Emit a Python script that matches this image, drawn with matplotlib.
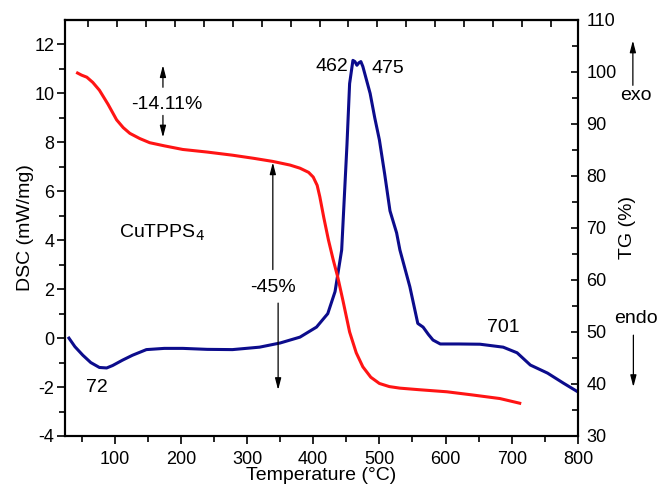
#!/usr/bin/python
import numpy as np
import matplotlib
matplotlib.use("Agg")
import matplotlib.pyplot as plt

plt.rcParams['font.family'] = ['Liberation Sans', 'DejaVu Sans']
plt.rcParams['font.size'] = 14
plt.rcParams['axes.unicode_minus'] = False

# DSC curve (left axis)
dsc_temp = [31, 40, 52, 64, 77, 88, 97, 112, 127, 148, 175, 203, 240, 278, 319, 350,
            380, 405, 422, 433, 443, 451, 455, 460, 463, 466, 469, 472, 475, 480,
            486, 493, 500, 508, 516, 526, 531, 546, 558, 566, 574, 581, 592, 620,
            652, 687, 708, 728, 754, 778, 800]
dsc_val = [0.0, -0.35, -0.7, -1.0, -1.2, -1.22, -1.12, -0.9, -0.7, -0.47, -0.42, -0.42,
           -0.46, -0.47, -0.37, -0.2, 0.04, 0.45, 1.0, 1.9, 3.6, 7.9, 10.4, 11.35,
           11.3, 11.15, 11.25, 11.3, 11.1, 10.6, 10.0, 9.0, 8.1, 6.7, 5.2, 4.3, 3.6,
           2.1, 0.6, 0.45, 0.15, -0.08, -0.24, -0.24, -0.25, -0.37, -0.6, -1.1,
           -1.43, -1.84, -2.2]

# TG curve (right axis)
tg_temp = [44, 50, 58, 67, 77, 90, 103, 113, 123, 138, 153, 175, 203, 240, 278, 310,
           339, 365, 380, 393, 400, 406, 410, 416, 423, 430, 437, 445, 455, 465,
           475, 487, 500, 515, 531, 560, 602, 640, 682, 712]
tg_val = [99.8, 99.4, 99.0, 98.0, 96.5, 93.8, 90.8, 89.3, 88.2, 87.2, 86.4, 85.8, 85.1,
          84.6, 84.0, 83.4, 82.8, 82.1, 81.5, 80.7, 79.8, 78.2, 76.0, 72.0, 67.7,
          64.0, 60.6, 56.0, 50.0, 46.0, 43.3, 41.3, 40.1, 39.5, 39.2, 38.9, 38.5,
          37.9, 37.2, 36.3]

x_ticks = [100, 200, 300, 400, 500, 600, 700, 800]
dsc_ticks = [-4, -2, 0, 2, 4, 6, 8, 10, 12]
tg_ticks = [30, 40, 50, 60, 70, 80, 90, 100, 110]
top_ticks = np.arange(60, 800, 43.7)

fig = plt.figure(figsize=(6.61, 4.84), dpi=100)
ax = fig.add_axes([0.0983, 0.0992, 0.7761, 0.8595])

blue = '#0c0c8c'
red = '#ff1414'

ax.plot(dsc_temp, dsc_val, color=blue, lw=2.2, zorder=3)
ax.set_xlim(25, 800)
ax.set_ylim(-4, 13)
ax.set_xticks(x_ticks)
ax.set_xticks(np.arange(50, 800, 100), minor=True)
ax.set_yticks(dsc_ticks)
ax.set_yticks(np.arange(-3, 13, 2), minor=True)
ax.set_xlabel('Temperature (\u00b0C)', labelpad=-1)
ax.set_ylabel('DSC (mW/mg)', labelpad=0)
ax.tick_params(axis='both', which='major', direction='out', length=6, width=1.2,
               pad=1.5, labelsize=13)
ax.tick_params(axis='both', which='minor', direction='out', length=4, width=1.2)
ax.tick_params(axis='x', which='major', pad=5)
ax.tick_params(top=False, right=False, which='both')

top = ax.secondary_xaxis('top')
top.set_xticks(top_ticks)
top.set_xticklabels([])
top.tick_params(direction='in', length=5, width=1.2)

ax2 = ax.twinx()
ax2.plot(tg_temp, tg_val, color=red, lw=2.2, zorder=3)
ax2.set_ylim(30, 110)
ax2.set_yticks(tg_ticks)
ax2.set_yticks(np.arange(35, 110, 10), minor=True)
ax2.set_ylabel('TG (%)', rotation=90, labelpad=2)
ax2.tick_params(axis='y', which='major', direction='in', length=5, width=1.2, pad=6,
                labelsize=13)
ax2.tick_params(axis='y', which='minor', direction='in', length=4, width=1.2)

for a in (ax, ax2):
    for s in a.spines.values():
        s.set_linewidth(1.5)
top.spines['top'].set_linewidth(1.5)

arrow = dict(arrowstyle='-|>,head_length=0.5,head_width=0.13', color='black', lw=0.9,
             shrinkA=0, shrinkB=0)

ax.text(428, 11.1, '462', ha='center', va='center')
ax.text(513, 11.0, '475', ha='center', va='center')
ax.text(73, -2.0, '72', ha='center', va='center')
ax.text(687, 0.45, '701', ha='center', va='center')
ax.text(171, 4.3, 'CuTPPS$_4$', ha='center', va='center')

ax.text(179, 9.55, '-14.11%', ha='center', va='center')
ax.annotate('', xy=(173, 11.15), xytext=(173, 10.25), arrowprops=arrow)
ax.annotate('', xy=(173, 8.2), xytext=(173, 9.1), arrowprops=arrow)

ax.text(339, 2.08, '-45%', ha='center', va='center')
ax.annotate('', xy=(339, 7.18), xytext=(339, 2.8), arrowprops=arrow)
ax.annotate('', xy=(347, -2.12), xytext=(347, 1.43), arrowprops=arrow)

tr = ax.get_yaxis_transform()
ax.text(1.113, 9.92, 'exo', transform=tr, ha='center', va='center')
ax.annotate('', xy=(1.107, 12.16), xytext=(1.107, 10.33), xycoords=tr,
            arrowprops=arrow, annotation_clip=False)
ax.text(1.113, 0.82, 'endo', transform=tr, ha='center', va='center')
ax.annotate('', xy=(1.108, -2.0), xytext=(1.108, 0.12), xycoords=tr,
            arrowprops=arrow, annotation_clip=False)

plt.savefig('out.png', dpi=100)
